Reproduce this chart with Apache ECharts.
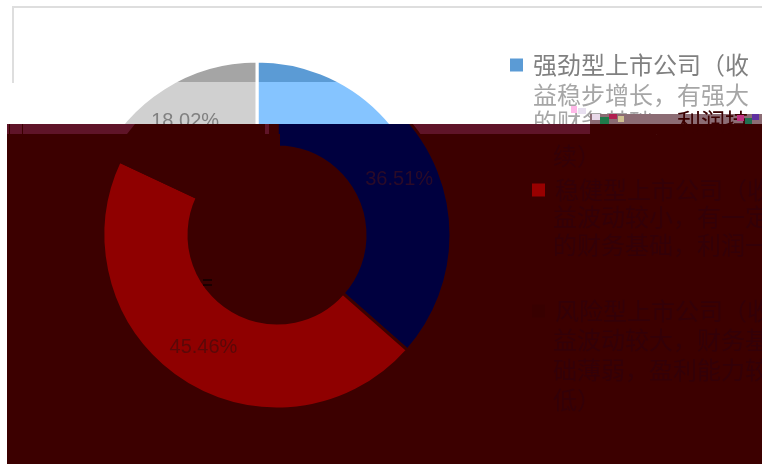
<!DOCTYPE html>
<html>
<head>
<meta charset="utf-8">
<style>html,body{margin:0;padding:0;background:#fff}#c{width:762px;height:464px}</style>
<script src="https://cdn.jsdelivr.net/npm/echarts@6/dist/echarts.min.js"></script>
</head>
<body>
<div id="c"></div>
<script>
// Data
const categories = ['强劲型上市公司', '稳健型上市公司', '风险型上市公司'];
const shares = [36.51, 45.46, 18.02];
const shareLabels = ['36.51%', '45.46%', '18.02%'];
// Legend text, line by line (the darkened lines are barely legible and are estimates)
const legendLines1 = ['强劲型上市公司（收', '益稳步增长，有强大', '的财务基础，利润持', '续）'];
const legendLines2 = ['稳健型上市公司（收', '益波动较小，有一定', '的财务基础，利润一般'];
const legendLines3 = ['风险型上市公司（收', '益波动较大，财务基', '础薄弱，盈利能力较', '低）'];

// Look of the picture: the photo's lower part is damaged into bands
const DARK = '#3C0000', BAND = '#5F1428', SHIFTED = 20;
const CY = 235, CX_LOW = 277, CX_TOP = CX_LOW - SHIFTED;
const BREAK1 = 82, BREAK2 = 124, H = 464;
const bands = (a, b, c) => ({
  type: 'linear', x: 0, y: 0, x2: 0, y2: H, global: true,
  colorStops: [
    { offset: 0, color: a }, { offset: BREAK1 / H, color: a },
    { offset: BREAK1 / H, color: b }, { offset: BREAK2 / H, color: b },
    { offset: BREAK2 / H, color: c }, { offset: 1, color: c }
  ]
});
const NONE = 'rgba(0,0,0,0)';
const topColors = [bands('#5B9BD5', '#85C4FF', NONE), bands(NONE, NONE, NONE), bands('#A5A5A5', '#D0D0D0', NONE)];
const lowColors = [bands(NONE, NONE, '#00003F'), bands(NONE, NONE, '#8F0000'), bands(NONE, NONE, DARK)];
const labelColors = ['#2A0A28', '#5A0808', '#808080'];

const pieBase = {
  type: 'pie', radius: [88, 174], startAngle: 90, clockwise: true,
  avoidLabelOverlap: false, silent: true, animation: false,
  labelLine: { show: false }
};
const toData = (colors, border, showLabel) => categories.map((name, i) => ({
  name, value: shares[i],
  itemStyle: { color: colors[i], borderColor: border, borderWidth: 3 },
  label: {
    show: showLabel[i], position: 'inside', formatter: shareLabels[i],
    fontFamily: 'Liberation Sans', fontSize: 20, color: labelColors[i]
  }
}));

const textLine = (str, x, y, fill, z) => ({
  type: 'text', z, silent: true,
  style: { text: str, x, y, fill, font: '24px "Noto Sans CJK SC"', textVerticalAlign: 'middle' }
});
const box = (x, y, width, height, fill, z) => ({
  type: 'rect', z, silent: true, shape: { x, y, width, height }, style: { fill }
});

const GREY = '#808080', SOFT = '#A6A6A6', SHADE = '#330008';
const noise = [
  [592, 114, 8, 6, '#E8D8E8'], [600, 117, 9, 7, '#1F7A4A'], [609, 114, 8, 5, '#B02050'],
  [618, 116, 6, 6, '#D0C090'], [737, 115, 7, 6, '#C03080'], [745, 118, 7, 6, '#207050'],
  [752, 114, 7, 6, '#6030A0'], [571, 106, 6, 7, '#FFB8E8'], [578, 108, 8, 6, '#E8E0F0']
];

const graphicElements = [
  box(12, 6, 750, 2, '#DEDEDE', 0),
  box(12, 6, 2, 77, '#DEDEDE', 0),
  box(7, BREAK2, 755, H - BREAK2, DARK, 0),
  { type: 'polygon', z: 1, silent: true, shape: { points: [[7, 124], [135, 124], [127, 134], [7, 134]] }, style: { fill: BAND } },
  box(9, 124, 1, 10, DARK, 1),
  box(22, 124, 1, 10, DARK, 1),
  box(400, 124, 190, 10, BAND, 1),
  // the photo's text lines
  textLine(legendLines1[1], 533, 95, SOFT, 3),
  textLine(legendLines1[2], 533, 122, SOFT, 3),
  box(525, 124, 65, 10, BAND, 5),
  box(590, 114, 172, 10, '#8C6C74', 5),
  box(590, 124, 172, 10, DARK, 5),
  textLine(legendLines1[2].slice(6), 677, 122, DARK, 6),
  textLine(legendLines1[3], 553, 156, SHADE, 6),
  textLine(legendLines2[1], 553, 217, SHADE, 6),
  textLine(legendLines2[2], 553, 245, SHADE, 6),
  textLine(legendLines3[1], 553, 340, SHADE, 6),
  textLine(legendLines3[2], 553, 370, SHADE, 6),
  textLine(legendLines3[3], 553, 400, SHADE, 6),
  // the label below the break is lost, and the stepped edge of the inner ring
  box(150, 124, 76, 10, DARK, 10),
  box(277, 134, 3, 12, DARK, 10),
  box(265, 124, 4, 10, BAND, 10),
  box(203, 279, 9, 2, '#1A0000', 10),
  box(203, 284, 9, 2, '#1A0000', 10)
].concat(noise.map(n => box(n[0], n[1], n[2], n[3], n[4], 7)));

const legendFont = { fontFamily: 'Noto Sans CJK SC', fontSize: 24, padding: [0, 0, 0, 5] };
const flatIcon = color => ({ color, borderWidth: 0 });
const chart = echarts.init(document.getElementById('c'));
chart.setOption({
  animation: false,
  backgroundColor: '#fff',
  legend: [
    {
      orient: 'vertical', left: 510, top: 53, padding: 0, itemWidth: 13, itemHeight: 13, itemGap: 0,
      selectedMode: false, textStyle: { ...legendFont, color: GREY },
      formatter: () => legendLines1[0],
      data: [{ name: categories[0], icon: 'rect', itemStyle: flatIcon('#5B9BD5') }]
    },
    {
      orient: 'vertical', left: 532, top: 178, padding: 0, itemWidth: 13, itemHeight: 13, itemGap: 97,
      selectedMode: false, textStyle: { ...legendFont, color: SHADE },
      formatter: n => n === categories[1] ? legendLines2[0] : legendLines3[0],
      data: [
        { name: categories[1], icon: 'rect', itemStyle: flatIcon('#990000') },
        { name: categories[2], icon: 'rect', itemStyle: flatIcon('#380000') }
      ]
    }
  ],
  series: [
    { ...pieBase, name: 'top', center: [CX_TOP, CY],
      data: toData(topColors, bands('#FFFFFF', '#FFFFFF', NONE), [false, false, true]) },
    { ...pieBase, name: 'low', center: [CX_LOW, CY],
      data: toData(lowColors, bands(NONE, NONE, DARK), [true, true, false]) }
  ],
  graphic: { elements: graphicElements }
});
</script>
</body>
</html>
